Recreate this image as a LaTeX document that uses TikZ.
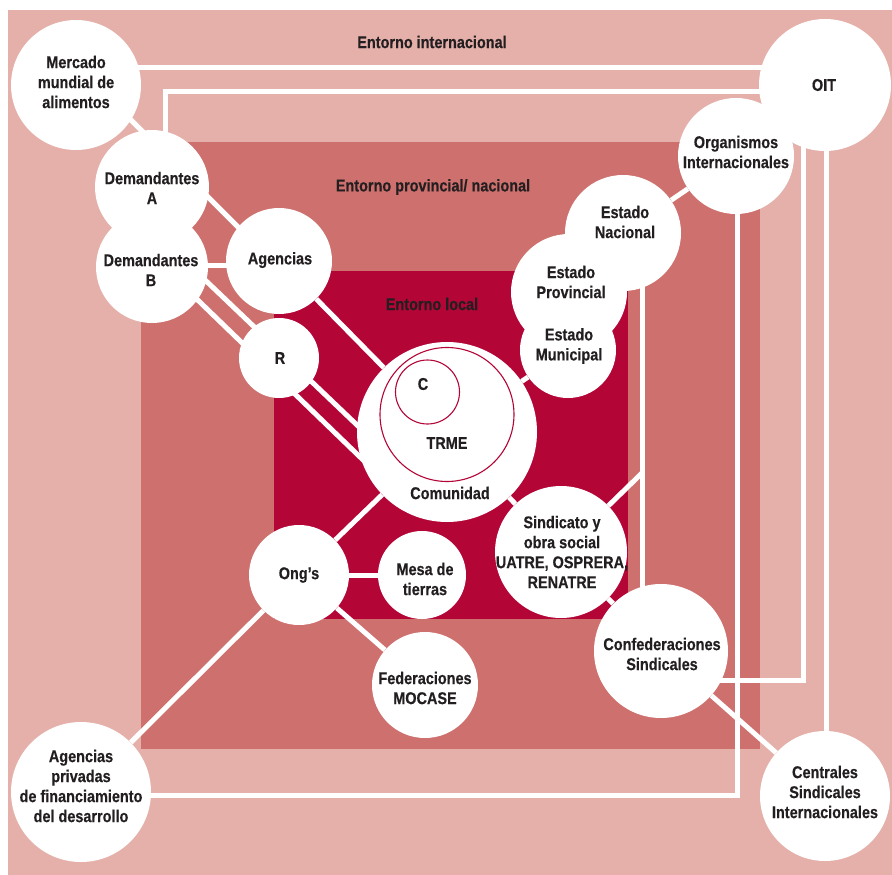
\documentclass[tikz,border=0pt]{standalone}
\usepackage{fontspec}
\setmainfont{Liberation Sans}[FakeStretch=0.85,BoldFeatures={FakeBold=0.4}]
\usetikzlibrary{calc}
\definecolor{pinkA}{HTML}{E5B0AA}
\definecolor{pinkB}{HTML}{CE706E}
\definecolor{crim}{HTML}{B40537}
\definecolor{txt}{HTML}{231F20}
\pgfdeclarelayer{bg}
\pgfsetlayers{bg,main}
\begin{document}
\begin{tikzpicture}[x=1pt,y=-1pt,
  bub/.style={circle,fill=white,inner sep=0pt},
  lab/.style={text=txt,align=center,inner sep=0pt,font=\bfseries\fontsize{17}{20}\selectfont},
  conn/.style={draw=white,line width=5pt},
  thin/.style={circle,draw=crim,line width=1.1pt,inner sep=0pt}]
\useasboundingbox (0,0) rectangle (892,875);
\begin{pgfonlayer}{bg}
\fill[white] (0,0) rectangle (892,875);
\fill[pinkA] (8,10) rectangle (892,875);
\fill[pinkB] (141,142) rectangle (760,749);
\fill[crim] (274,271) rectangle (628,619);
\end{pgfonlayer}
% circles
\node[bub,minimum size=130pt] (merc) at (76,85) {};
\node[bub,minimum size=132pt] (oit) at (825,85) {};
\node[bub,minimum size=114pt] (demA) at (152,187) {};
\node[bub,minimum size=112pt] (demB) at (152,267) {};
\node[bub,minimum size=106pt] (agen) at (279,261) {};
\node[bub,minimum size=80pt] (R) at (279,358) {};
\node[bub,minimum size=180pt] (com) at (447,432) {};
\node[bub,minimum size=116pt] (orgInt) at (736,156) {};
\node[bub,minimum size=116pt] (estNac) at (623,233) {};
\node[bub,minimum size=116pt] (estProv) at (569,292) {};
\node[bub,minimum size=96pt] (estMun) at (568,350) {};
\node[bub,minimum size=132pt] (sind) at (561,552) {};
\node[bub,minimum size=134pt] (conf) at (661,651) {};
\node[bub,minimum size=130pt] (cent) at (825,796) {};
\node[bub,minimum size=100pt] (ong) at (299,575) {};
\node[bub,minimum size=88pt] (mesa) at (422,575) {};
\node[bub,minimum size=106pt] (fed) at (425,685) {};
\node[bub,minimum size=140pt] (apriv) at (81,792) {};
\node[thin,minimum size=134pt] (trme) at (447,414.5) {};
\node[thin,minimum size=64pt] (cc) at (427.5,392) {};
% connectors
\coordinate (jn) at (642,473);
\begin{pgfonlayer}{bg}
\draw[conn] ($(merc)+(0,-20)$) -- ($(agen)+(0,7)$);
\draw[conn] ($(merc)+(0,-17)$) -- ($(oit)+(0,-17)$);
\draw[conn] ($(demA)+(13,0)$) |- ($(oit)+(0,7)$);
\draw[conn] ($(demB)+(0,-2)$) -- ($(agen)+(0,4)$);
\draw[conn] ($(demB)+(28,-11)$) -- ($(com)+(-67,15)$);
\draw[conn] ($(demB)+(23,11)$) -- ($(com)+(-57,54)$);
\draw[conn] (agen) -- (com);
\draw[conn] (com) -- (estMun);
\draw[conn] (com) -- (sind);
\draw[conn] (sind) -- (conf);
\draw[conn] (com) -- (ong);
\draw[conn] (ong) -- (mesa);
\draw[conn] (ong) -- (fed);
\draw[conn] (ong) -- (apriv);
\draw[conn] (estNac) -- (orgInt);
\draw[conn] ($(estNac)+(19,0)$) -- ($(conf)+(-19,0)$);
\draw[conn] (sind) -- (jn);
\draw[conn] ($(orgInt)+(1,0)$) |- ($(apriv)+(0,3)$);
\draw[conn] ($(oit)+(-22,0)$) |- ($(conf)+(0,29)$);
\draw[conn] ($(oit)+(1,0)$) -- ($(cent)+(1,0)$);
\draw[conn] (conf) -- (cent);
\end{pgfonlayer}
% texts
\node[lab] (t1) at (432,42) {Entorno internacional};
\node[lab] (t2) at (433,187) {Entorno provincial/ nacional};
\node[lab] (t3) at (432,304) {Entorno local};
\node[lab] at (76,82) {Mercado\\mundial de\\alimentos};
\node[lab] at (824,85) {OIT};
\node[lab] at (152,188) {Demandantes\\A};
\node[lab] at (151,270) {Demandantes\\B};
\node[lab] at (280,260) {Agencias};
\node[lab] at (280,358) {R};
\node[lab] at (423,384) {C};
\node[lab] at (447,443) {TRME};
\node[lab] at (450,493) {Comunidad};
\node[lab] at (736,152) {Organismos\\Internacionales};
\node[lab] at (625,222) {Estado\\Nacional};
\node[lab] at (571,282) {Estado\\Provincial};
\node[lab] at (569,346) {Estado\\Municipal};
\node[lab] at (562,552) {Sindicato y\\obra social\\UATRE, OSPRERA,\\RENATRE};
\node[lab] at (662,654) {Confederaciones\\Sindicales};
\node[lab] at (825,792) {Centrales\\Sindicales\\Internacionales};
\node[lab] at (299,575) {Ong’s};
\node[lab] at (425,579) {Mesa de\\tierras};
\node[lab] at (425,688) {Federaciones\\MOCASE};
\node[lab] at (81,786) {Agencias\\privadas\\de financiamiento\\del desarrollo};
\end{tikzpicture}
\end{document}
